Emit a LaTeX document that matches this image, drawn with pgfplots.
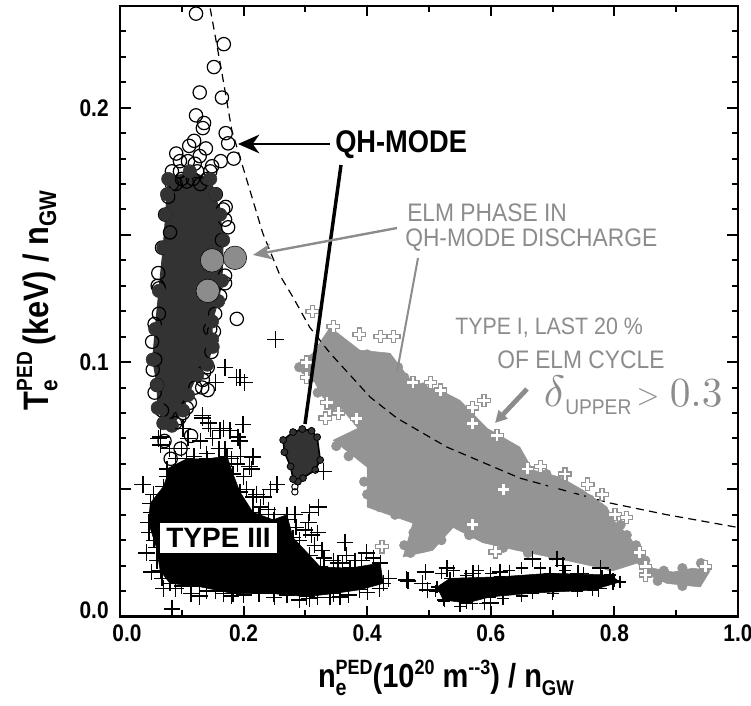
\documentclass[border=0pt]{standalone}
\usepackage{fontspec}
\usepackage{pgfplots}
\usepackage{pgfplotstable}
\pgfplotsset{compat=1.18}
\usetikzlibrary{arrows.meta}
\setmainfont{Liberation Sans}
\newfontfamily\condb[FakeStretch=0.87]{Liberation Sans Bold}
\newfontfamily\condr[FakeStretch=0.90]{Liberation Sans}
\newfontfamily\wideb{Liberation Sans Bold}
\newcommand\fs[1]{\fontsize{#1}{#1}\selectfont}
\definecolor{annot}{gray}{0.55}
\definecolor{qhdark}{gray}{0.2}
\definecolor{typeone}{gray}{0.58}

% open greek cross used for the type I points
\pgfdeclareplotmark{opencross}{%
  \pgfpathmoveto{\pgfqpoint{-0.33\pgfplotmarksize}{-\pgfplotmarksize}}
  \pgfpathlineto{\pgfqpoint{0.33\pgfplotmarksize}{-\pgfplotmarksize}}
  \pgfpathlineto{\pgfqpoint{0.33\pgfplotmarksize}{-0.33\pgfplotmarksize}}
  \pgfpathlineto{\pgfqpoint{\pgfplotmarksize}{-0.33\pgfplotmarksize}}
  \pgfpathlineto{\pgfqpoint{\pgfplotmarksize}{0.33\pgfplotmarksize}}
  \pgfpathlineto{\pgfqpoint{0.33\pgfplotmarksize}{0.33\pgfplotmarksize}}
  \pgfpathlineto{\pgfqpoint{0.33\pgfplotmarksize}{\pgfplotmarksize}}
  \pgfpathlineto{\pgfqpoint{-0.33\pgfplotmarksize}{\pgfplotmarksize}}
  \pgfpathlineto{\pgfqpoint{-0.33\pgfplotmarksize}{0.33\pgfplotmarksize}}
  \pgfpathlineto{\pgfqpoint{-\pgfplotmarksize}{0.33\pgfplotmarksize}}
  \pgfpathlineto{\pgfqpoint{-\pgfplotmarksize}{-0.33\pgfplotmarksize}}
  \pgfpathlineto{\pgfqpoint{-0.33\pgfplotmarksize}{-0.33\pgfplotmarksize}}
  \pgfpathclose
  \pgfusepathqfillstroke
}

% dense part of the QH-mode points
\pgfplotstableread{
x y
.078 .172
.113 .175
.146 .172
.154 .166
.162 .158
.167 .148
.165 .132
.159 .124
.149 .116
.149 .109
.150 .106
.141 .099
.125 .095
.110 .087
.102 .081
.084 .075
.070 .076
.061 .082
.060 .091
.053 .101
.057 .113
.063 .128
.070 .145
.074 .158
.076 .166
}\qhblob

\pgfplotstableread{
x y
.123 .237
.168 .225
.152 .216
.129 .206
.165 .204
.123 .197
.136 .194
.134 .192
.171 .190
.175 .186
.184 .180
.163 .179
.120 .187
.112 .185
.139 .184
.091 .182
.129 .181
.097 .179
.110 .179
.121 .178
.149 .177
.146 .175
.084 .175
.097 .175
.125 .175
.141 .172
.108 .171
.084 .170
.155 .166
.078 .165
.171 .161
.167 .160
.073 .158
.170 .156
.175 .153
.081 .151
.165 .148
.068 .145
.170 .134
.170 .131
.063 .129
.189 .117
.154 .119
.146 .113
.061 .130
.063 .119
.057 .101
.060 .091
.142 .098
.142 .089
.133 .090
.134 .093
.113 .084
.102 .080
.089 .076
.068 .081
.072 .069
.082 .062
.098 .066
.115 .071
.062 .135
.056 .115
.052 .108
.053 .097
.056 .088
.162 .126
.152 .112
.148 .104
.136 .096
.122 .090
.108 .082
.096 .078
.090 .170
.100 .172
.118 .172
.130 .170
}\qhpts

% the small QH-mode group near 0.3
\pgfplotstableread{
x y
.295 .0737
.310 .0730
.319 .0705
.324 .0615
.316 .0576
.296 .0544
.288 .0530
.280 .0540
.276 .0590
.266 .0646
.264 .0694
.280 .0725
}\qhsmall

% dense part of the type III points
\pgfplotstableread{
x y
.076 .058
.108 .062
.141 .062
.173 .063
.183 .056
.194 .049
.215 .041
.248 .038
.270 .040
.280 .031
.307 .024
.324 .0195
.372 .019
.421 .021
.426 .013
.388 .0105
.345 .009
.302 .0078
.248 .009
.183 .009
.129 .0117
.081 .013
.065 .018
.059 .027
.046 .037
.049 .0445
.070 .051
.076 .055
}\threeblob

\pgfplotstableread{
x y
.513 .0116
.534 .015
.615 .0156
.696 .017
.793 .0163
.809 .0136
.765 .0104
.668 .0092
.599 .0077
.561 .0053
.523 .0065
}\threelow

\pgfplotstableread{
x y
.134 .078
.199 .0755
.143 .076
.102 .074
.062 .070
.162 .073
.178 .073
.194 .069
.215 .063
.213 .058
.037 .052
.054 .048
.254 .052
.243 .050
.221 .048
.232 .047
.227 .043
.321 .043
.307 .041
.283 .040
.305 .037
.310 .032
.364 .029
.327 .026
.399 .025
.367 .024
.353 .021
.391 .022
.043 .025
.051 .0175
.070 .011
.084 .003
.129 .008
.167 .009
.307 .007
.356 .0077
.434 .015
.466 .014
.329 .057
.252 .109
.170 .098
.189 .094
.194 .094
.201 .092
.154 .092
.133 .079
.214 .0627
.210 .059
.191 .0705
.065 .0705
.065 .0674
.146 .074
.167 .074
.464 .0144
.494 .0175
.490 .013
.498 .0104
.529 .019
.668 .0226
.707 .0226
.717 .020
.741 .017
.777 .019
.774 .011
.798 .0136
.701 .011
.615 .0175
.599 .0053
.571 .017
}\threepts

% crosses along the rim of the type III groups
\pgfplotstableread{
x y
.080 .066
.090 .062
.100 .066
.110 .070
.120 .063
.130 .069
.140 .064
.150 .070
.160 .066
.170 .066
.180 .062
.190 .060
.200 .055
.195 .063
.205 .050
.215 .047
.225 .040
.240 .042
.250 .040
.260 .036
.270 .038
.285 .035
.290 .030
.300 .034
.315 .028
.320 .033
.330 .023
.345 .022
.360 .021
.380 .022
.410 .023
.090 .011
.100 .012
.115 .009
.140 .010
.155 .010
.180 .008
.200 .0085
.225 .009
.250 .0075
.270 .0085
.290 .0065
.320 .0075
.340 .0075
.370 .0085
.400 .0095
.420 .011
.050 .041
.047 .033
.055 .030
.060 .022
.068 .015
}\threerim

\pgfplotstableread{
x y
.520 .017
.540 .018
.560 .016
.580 .018
.600 .017
.630 .018
.650 .019
.680 .019
.720 .018
.750 .017
.780 .016
.800 .014
.550 .004
.570 .005
.590 .005
.620 .007
.650 .008
.700 .009
.740 .010
.525 .006
.510 .010
}\threelowrim

% dense part of the type I points
\pgfplotstableread{
x y
.296 .1008
.312 .1035
.340 .1137
.388 .1047
.437 .1035
.474 .0917
.518 .089
.550 .085
.594 .074
.647 .0666
.668 .0576
.712 .0548
.749 .0497
.788 .043
.798 .038
.825 .0312
.841 .025
.862 .019
.895 .0175
.927 .019
.955 .018
.939 .0116
.885 .013
.858 .016
.837 .021
.798 .018
.723 .022
.642 .026
.587 .029
.539 .035
.506 .026
.458 .0234
.474 .0367
.400 .043
.400 .0587
.345 .0693
.385 .074
.375 .077
.356 .0823
.328 .0862
}\oneblob

\pgfplotstableread{
x y
.300 .097
.320 .100
.335 .108
.360 .107
.375 .104
.400 .103
.420 .100
.450 .098
.460 .094
.490 .090
.505 .086
.530 .085
.560 .080
.575 .072
.600 .070
.620 .067
.635 .063
.655 .058
.690 .056
.700 .052
.730 .050
.760 .046
.775 .043
.810 .036
.820 .032
.835 .028
.850 .022
.880 .018
.910 .019
.940 .021
.910 .012
.870 .014
.790 .020
.750 .023
.700 .024
.660 .025
.620 .027
.600 .031
.565 .032
.545 .037
.520 .030
.490 .027
.470 .025
.460 .028
.475 .033
.445 .040
.420 .043
.400 .048
.395 .053
.370 .063
.350 .067
.345 .083
.320 .088
.310 .094
.290 .098
}\onerim

\pgfplotstableread{
x y
.311 .120
.345 .114
.387 .111
.421 .110
.443 .110
.302 .100
.302 .094
.474 .092
.502 .092
.519 .089
.335 .084
.332 .078
.353 .080
.383 .078
.589 .085
.570 .082
.571 .076
.610 .071
.680 .059
.659 .058
.720 .056
.757 .052
.780 .048
.801 .040
.820 .039
.620 .050
.607 .0254
.841 .025
.850 .0195
.850 .0163
.947 .0195
.571 .036
.424 .0274
}\onepts

% dashed curve
\pgfplotstableread{
x y
.146 .239
.165 .2136
.181 .191
.199 .1766
.231 .1507
.259 .134
.280 .1255
.307 .1137
.340 .1035
.405 .0862
.448 .078
.529 .0666
.647 .0544
.793 .0446
.885 .040
1.0 .035
}\limitcurve

\begin{document}
\begin{tikzpicture}
\useasboundingbox (0,0) rectangle (563.25pt,529.5pt);
\begin{axis}[
  at={(90pt,67.125pt)}, anchor=south west,
  scale only axis,
  width=463.5pt, height=457.875pt,
  xmin=0, xmax=1, ymin=0, ymax=0.24,
  xtick={0,0.2,0.4,0.6,0.8,1},
  xticklabels={\hspace*{10.5pt}0.0,0.2,0.4,0.6,0.8,1.0},
  ytick={0,0.05,0.1,0.15,0.2},
  yticklabels={\raisebox{5pt}[0.7em][0pt]{0.0},,0.1,,0.2},
  tick align=inside,
  tick label style={font=\condb\fs{18}},
  xticklabel style={yshift=-3pt},
  yticklabel style={xshift=-5pt},
  xlabel={\condb\fs{25}n\rlap{\raisebox{-6pt}{\fs{17}e}}\raisebox{10pt}{\fs{15.5}PED}(10\raisebox{10pt}{\fs{15.5}20} m\raisebox{10pt}{\fs{15.5}--3}) / n\raisebox{-6pt}{\fs{16}GW}},
  ylabel={\condb\fs{26.5}T\rlap{\raisebox{-7pt}{\fs{18}e}}\raisebox{12pt}{\fs{16.5}PED}\,(keV) / n\raisebox{-6pt}{\fs{18}GW}},
  x label style={at={(axis description cs:0.5275,-0.117)}, anchor=base},
  y label style={at={(axis description cs:-0.1165,0.518)}, anchor=base},
  clip=false,
]
% type I
\addplot[fill=typeone, draw=typeone] table {\oneblob} -- cycle;
\addplot[only marks, mark=*, mark size=3.6pt, mark options={draw=typeone, fill=typeone}] table {\onerim};
\addplot[only marks, mark=opencross, mark size=4.6pt, mark options={draw=typeone, fill=white, line width=0.9pt}] table {\onepts};
% curve
\addplot[black, line width=0.9pt, dash pattern=on 6pt off 4pt] table {\limitcurve};
% QH-mode
\addplot[only marks, mark=o, mark size=5pt, mark options={draw=black, line width=0.9pt}] table {\qhpts};
\addplot[fill=qhdark, draw=qhdark, line width=0.8pt] table {\qhblob} -- cycle;
\addplot[only marks, mark=*, mark size=5pt, mark options={draw=qhdark, fill=qhdark}] table {\qhblob};
\addplot[fill=qhdark, draw=black, line width=1.2pt] table {\qhsmall} -- cycle;
\addplot[only marks, mark=*, mark size=2.6pt, mark options={draw=black, fill=qhdark, line width=0.6pt}] table {\qhsmall};
\addplot[only marks, mark=o, mark size=2.4pt, mark options={draw=black, line width=0.7pt}] coordinates {(.283,.051) (.283,.049)};
% type III
\addplot[fill=black, draw=black] table {\threeblob} -- cycle;
\addplot[fill=black, draw=black] table {\threelow} -- cycle;
\addplot[only marks, mark=+, mark size=6.3pt, mark options={draw=black, line width=1pt}] table {\threepts};
\addplot[only marks, mark=+, mark size=6pt, mark options={draw=black, line width=1pt}] table {\threeblob};
\addplot[only marks, mark=+, mark size=6pt, mark options={draw=black, line width=1pt}] table {\threerim};
\addplot[only marks, mark=+, mark size=4.5pt, mark options={draw=black, line width=1pt}] table {\threelow};
\addplot[only marks, mark=+, mark size=4.5pt, mark options={draw=black, line width=1pt}] table {\threelowrim};
% ELM phase points
\addplot[only marks, mark=*, mark size=8.8pt, mark options={draw=none, fill=annot}] coordinates {(.149,.140) (.186,.141) (.142,.128)};
\end{axis}
% frame, ticks and annotations, in pixel coordinates of the picture
\begin{scope}[x=0.75pt, y=-0.75pt, yshift=529.5pt]
  \draw[line width=2.2pt] (120,6) rectangle (738,616.5);
  \foreach \k in {1,...,9} {
    \pgfmathsetmacro\px{120+61.8*\k}
    \pgfmathsetmacro\len{mod(\k,2)==0 ? 10 : 6}
    \draw[line width=1.5pt] (\px,616.5) -- ++(0,-\len);
    \draw[line width=1.5pt] (\px,6) -- ++(0,\len);
  }
  \foreach \k in {1,...,23} {
    \pgfmathsetmacro\py{616.5-25.44*\k}
    \pgfmathsetmacro\len{mod(\k,5)==0 ? 11 : 6}
    \draw[line width=1.5pt] (120,\py) -- ++(\len,0);
    \draw[line width=1.5pt] (738,\py) -- ++(-\len,0);
  }
  \node[fill=white, inner sep=0pt, minimum width=87.75pt, minimum height=22.5pt, font=\wideb\fs{21}] at (218.5,538) {TYPE III};
  \node[anchor=west, inner sep=0pt, font=\condb\fs{23.5}] at (335,145) {QH-MODE};
  \draw[line width=1.7pt, -{Stealth[length=16pt, width=14pt, inset=5pt]}] (330,144) -- (238,144);
  \draw[line width=2.6pt] (341,165) -- (305,424);
  \draw[annot, line width=1.8pt, -{Stealth[length=14pt, width=12pt, inset=4pt]}] (397,228) -- (253,255);
  \draw[annot, line width=1.5pt] (418,258) -- (397,372);
  \draw[annot, line width=3.6pt, -{Stealth[length=9pt, width=9pt, inset=0pt]}] (527,389) -- (495,423);
  \node[anchor=west, inner sep=0pt, text=annot, font=\condr\fs{19}] at (407,213) {ELM PHASE IN};
  \node[anchor=west, inner sep=0pt, text=annot, font=\condr\fs{19}] at (405,240) {QH-MODE DISCHARGE};
  \node[anchor=west, inner sep=0pt, text=annot, font=\condr\fs{17.8}] at (455,328) {TYPE I, LAST 20 \%};
  \node[anchor=west, inner sep=0pt, text=annot, font=\condr\fs{19}] at (497,360) {OF ELM CYCLE};
  \node[anchor=base west, inner sep=0pt, text=annot, scale=3.3] at (543,407) {$\delta$};
  \node[anchor=base west, inner sep=0pt, text=annot, font=\condr\fs{16}] at (565,415) {UPPER};
  \node[anchor=base west, inner sep=0pt, text=annot, scale=2.2] at (636,405) {$>$};
  \node[anchor=base west, inner sep=0pt, text=annot, scale=3.1] at (669,407) {$0.3$};
\end{scope}
\end{tikzpicture}
\end{document}
